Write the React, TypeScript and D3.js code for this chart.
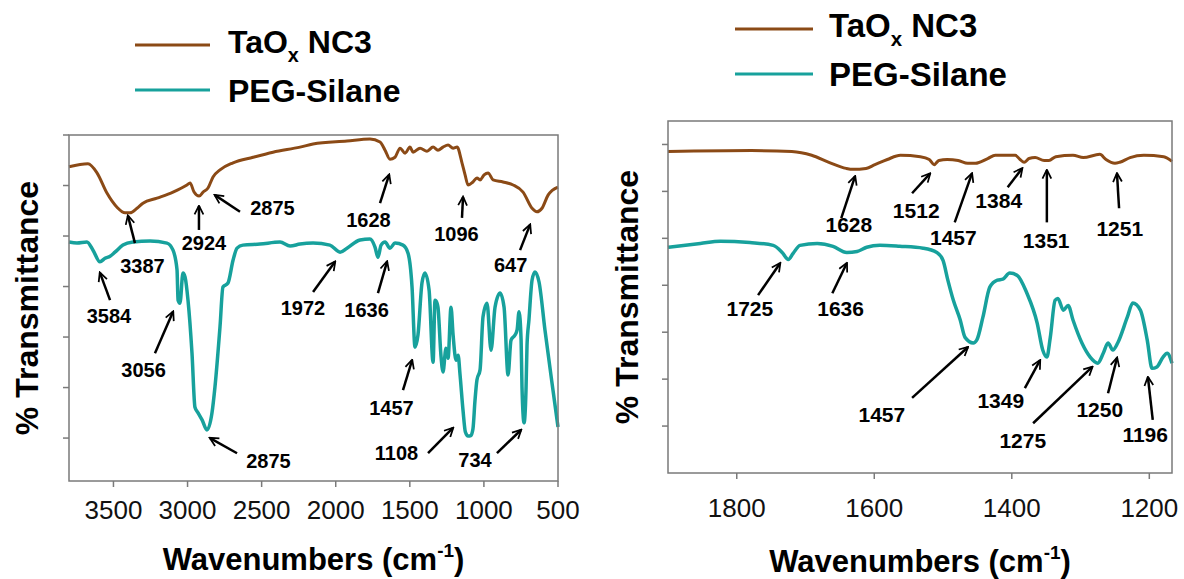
import React from 'react';
import * as d3 from 'd3';

// ---------- data ----------
const leftTicksX = [3500, 3000, 2500, 2000, 1500, 1000, 500];
const rightTicksX = [1800, 1600, 1400, 1200];
const ticksY = [10, 20, 30, 40, 50, 60, 70];

const seriesNames = ['TaOx NC3', 'PEG-Silane'];

// full range spectrum, TaOx NC3 [wavenumber, %T]
const taoxFull: [number, number][] = [
  [3800, 63.7], [3672, 64.3], [3611, 62.5], [3544, 58.5], [3476, 55.7], [3422, 54.6], [3388, 54.6],
  [3341, 55.5], [3301, 56.5], [3206, 57.5], [3098, 58.7], [3004, 60.1], [2983, 60.5], [2956, 58.7],
  [2922, 57.9], [2895, 58.7], [2862, 59.5], [2828, 61.7], [2781, 63.1], [2693, 64.5], [2558, 65.6],
  [2423, 66.6], [2241, 67.6], [2153, 68.2], [1924, 68.8], [1769, 69.2], [1701, 68.6], [1667, 67.0],
  [1634, 65.2], [1600, 65.6], [1566, 67.4], [1532, 66.4], [1499, 67.6], [1478, 66.6], [1431, 67.4],
  [1384, 66.8], [1343, 67.6], [1310, 67.0], [1276, 67.6], [1242, 68.0], [1208, 67.4], [1181, 67.6],
  [1148, 64.5], [1127, 62.1], [1107, 60.1], [1074, 60.7], [1047, 61.5], [1026, 61.1], [999, 62.1],
  [972, 62.5], [938, 61.1], [871, 60.7], [803, 60.1], [736, 58.7], [675, 55.5], [642, 54.8],
  [608, 55.5], [567, 58.1], [500, 59.7],
];

// full range spectrum, PEG-Silane
const pegFull: [number, number][] = [
  [3800, 48.8], [3746, 48.6], [3679, 48.8], [3638, 47.2], [3591, 44.9], [3557, 45.6], [3523, 46.0],
  [3490, 46.8], [3436, 48.2], [3368, 48.8], [3253, 49.0], [3139, 48.6], [3098, 47.2], [3071, 43.3],
  [3064, 37.3], [3051, 36.7], [3031, 42.7], [3017, 41.9], [2997, 37.3], [2970, 26.8], [2950, 16.1],
  [2929, 15.0], [2902, 13.6], [2869, 11.6], [2835, 15.0], [2815, 20.1], [2781, 32.0], [2761, 39.9],
  [2727, 40.7], [2693, 45.2], [2666, 47.6], [2626, 48.2], [2511, 48.4], [2376, 48.8], [2308, 48.0],
  [2241, 48.4], [2153, 48.6], [2039, 48.2], [1971, 46.8], [1924, 47.6], [1836, 49.2], [1769, 49.4],
  [1735, 47.8], [1715, 45.8], [1694, 48.2], [1667, 48.8], [1634, 47.6], [1600, 48.6], [1546, 48.2],
  [1512, 46.6], [1485, 39.9], [1465, 28.0], [1445, 30.4], [1418, 40.7], [1398, 42.7], [1370, 39.3],
  [1343, 25.0], [1330, 37.3], [1316, 36.7], [1310, 35.9], [1290, 26.4], [1276, 23.1], [1256, 27.8],
  [1242, 25.8], [1222, 35.9], [1208, 30.4], [1188, 25.4], [1174, 26.4], [1161, 22.5], [1141, 15.5],
  [1125, 11.2], [1107, 10.4], [1088, 10.5], [1074, 11.8], [1060, 17.5], [1047, 21.5], [1026, 23.5], [1006, 34.0],
  [979, 36.7], [952, 27.4], [925, 35.9], [891, 38.7], [864, 35.9], [837, 22.5], [817, 29.4],
  [790, 30.4], [776, 31.4], [763, 35.0], [749, 29.4], [743, 20.1], [729, 13.0], [716, 19.5],
  [709, 28.4], [696, 33.4], [675, 41.3], [655, 42.9], [628, 40.9], [588, 31.4], [534, 19.5], [500, 12.2],
];

// expanded region, TaOx NC3
const taoxZoom: [number, number][] = [
  [1900, 68.5], [1779, 68.7], [1720, 68.5], [1691, 67.7], [1666, 66.2], [1641, 64.9], [1631, 64.7],
  [1612, 64.9], [1599, 65.7], [1581, 66.8], [1562, 67.7], [1533, 67.4], [1520, 66.8], [1513, 65.7],
  [1506, 66.6], [1494, 66.8], [1478, 66.6], [1464, 66.0], [1453, 66.0], [1435, 67.0], [1424, 67.7],
  [1395, 67.7], [1388, 66.8], [1382, 66.2], [1375, 67.0], [1366, 67.2], [1353, 66.6], [1346, 66.6],
  [1336, 67.4], [1311, 67.7], [1296, 67.2], [1272, 67.9], [1263, 66.8], [1250, 66.0], [1243, 66.2],
  [1228, 67.2], [1208, 67.7], [1179, 67.4], [1167, 66.4],
];

// expanded region, PEG-Silane
const pegZoom: [number, number][] = [
  [1900, 48.1], [1853, 48.9], [1824, 49.4], [1781, 49.1], [1747, 48.5], [1734, 47.0], [1725, 45.5],
  [1718, 46.8], [1708, 48.5], [1683, 48.9], [1660, 48.3], [1640, 47.0], [1625, 47.2], [1611, 48.1],
  [1592, 48.5], [1563, 48.3], [1529, 47.9], [1509, 47.0], [1500, 45.3], [1493, 41.1], [1485, 36.8],
  [1475, 32.6], [1468, 28.9], [1456, 27.7], [1451, 28.3], [1442, 33.2], [1432, 39.6], [1421, 41.1],
  [1413, 41.3], [1403, 42.6], [1392, 42.1], [1378, 38.3], [1363, 31.9], [1355, 26.2], [1349, 24.7],
  [1344, 28.9], [1337, 36.8], [1333, 37.2], [1325, 34.7], [1318, 35.7], [1311, 32.6], [1298, 27.7],
  [1286, 24.7], [1275, 23.4], [1267, 25.5], [1260, 27.7], [1253, 26.2], [1246, 27.7], [1232, 33.2],
  [1224, 36.2], [1213, 34.7], [1203, 28.3], [1196, 22.3], [1189, 22.6], [1180, 24.7], [1174, 25.5],
  [1167, 23.4],
];

// peak annotations: [label, text wavenumber, text %T, arrow start wn, arrow start %T, tip wn, tip %T]
type Ann = [string, number, number, number, number, number, number];
const leftPeaks: Ann[] = [
  ['3387', 3304, 42.7, 3355, 48.6, 3402, 54.0],
  ['2924', 2889, 47.2, 2923, 51.2, 2923, 55.9],
  ['2875', 2427, 54.2, 2646, 54.8, 2815, 58.1],
  ['1628', 1779, 51.8, 1701, 56.5, 1640, 62.1],
  ['1096', 1185, 49.0, 1148, 53.6, 1141, 57.7],
  ['647', 820, 42.9, 756, 47.2, 689, 52.2],
  ['3584', 3530, 32.8, 3523, 37.3, 3591, 42.7],
  ['3056', 3297, 22.1, 3220, 26.8, 3098, 35.0],
  ['2875', 2454, 4.1, 2666, 7.0, 2848, 10.0],
  ['1972', 2221, 34.4, 2153, 38.9, 2005, 44.9],
  ['1636', 1792, 34.0, 1715, 38.7, 1654, 44.9],
  ['1457', 1624, 14.6, 1546, 19.5, 1485, 25.4],
  ['1108', 1590, 5.6, 1377, 7.0, 1209, 12.0],
  ['734', 1060, 4.3, 912, 7.0, 750, 11.6],
];
const rightPeaks: Ann[] = [
  ['1628', 1637, 51.3, 1648, 54.3, 1628, 63.2],
  ['1512', 1539, 54.3, 1545, 59.6, 1519, 63.8],
  ['1457', 1485, 48.5, 1483, 53.4, 1458, 63.8],
  ['1384', 1419, 56.4, 1406, 60.9, 1385, 64.9],
  ['1351', 1350, 47.9, 1349, 53.4, 1349, 64.5],
  ['1251', 1243, 50.6, 1244, 56.4, 1247, 63.8],
  ['1725', 1781, 33.4, 1769, 37.9, 1737, 44.7],
  ['1636', 1649, 33.4, 1661, 38.3, 1640, 44.7],
  ['1457', 1589, 10.9, 1545, 16.0, 1464, 26.8],
  ['1349', 1416, 13.8, 1381, 18.1, 1359, 24.0],
  ['1275', 1384, 5.3, 1369, 10.6, 1283, 22.6],
  ['1250', 1272, 11.9, 1260, 17.0, 1247, 24.5],
  ['1196', 1206, 6.6, 1195, 11.3, 1202, 20.4],
];

// ---------- styling ----------
const FONT = '"Liberation Sans", Arial, Helvetica, sans-serif';
const BROWN = '#8b4a16';
const TEAL = '#17a19c';
const FRAME = '#7a7a7a';

type PanelProps = {
  x: d3.ScaleLinear<number, number>;
  y: d3.ScaleLinear<number, number>;
  ticksX: number[];
  brown: [number, number][];
  teal: [number, number][];
  peaks: Ann[];
  annFont: number;
  tickBaseline: number;
  titleBaseline: number;
  yTitleX: number;
  legend: { lineX0: number; lineX1: number; textX: number; y1: number; y2: number; font: number };
  id: string;
};

function Panel(p: PanelProps) {
  const { x, y } = p;
  const [x0, x1] = x.range();
  const [yb, yt] = y.range();
  const line = d3
    .line<[number, number]>()
    .x((d) => x(d[0]))
    .y((d) => y(d[1]))
    .curve(d3.curveMonotoneX);
  const sortedB = [...p.brown].sort((a, b) => b[0] - a[0]);
  const sortedT = [...p.teal].sort((a, b) => b[0] - a[0]);
  const cx = (x0 + x1) / 2;
  const cy = (yb + yt) / 2;
  const lg = p.legend;
  return (
    <g>
      {/* curves */}
      <path d={line(sortedB) || ''} fill="none" stroke={BROWN} strokeWidth={3} strokeLinejoin="round" />
      <path d={line(sortedT) || ''} fill="none" stroke={TEAL} strokeWidth={3.5} strokeLinejoin="round" />
      {/* frame */}
      <rect x={x0} y={yt} width={x1 - x0} height={yb - yt} fill="none" stroke={FRAME} strokeWidth={1.5} />
      {/* y ticks */}
      {ticksY.filter((t) => y(t) >= yt - 0.5).map((t) => (
        <line key={'yt' + t} x1={x0 - 6} x2={x0} y1={y(t)} y2={y(t)} stroke={FRAME} strokeWidth={1.5} />
      ))}
      {/* x ticks */}
      {p.ticksX.map((t) => (
        <g key={'xt' + t}>
          <line x1={x(t)} x2={x(t)} y1={yb} y2={yb + 6} stroke={FRAME} strokeWidth={1.5} />
          <text x={x(t)} y={p.tickBaseline} textAnchor="middle" fontFamily={FONT} fontSize={26} fill="#111">
            {t}
          </text>
        </g>
      ))}
      {/* axis titles */}
      <text x={cx} y={p.titleBaseline} textAnchor="middle" fontFamily={FONT} fontSize={31} fontWeight="bold">
        Wavenumbers (cm
        <tspan fontSize={19} dy={-13}>-1</tspan>
        <tspan dy={13}>)</tspan>
      </text>
      <text
        transform={`translate(${p.yTitleX},${cy}) rotate(-90)`}
        textAnchor="middle"
        fontFamily={FONT}
        fontSize={32}
        fontWeight="bold"
      >
        % Transmittance
      </text>
      {/* annotations */}
      {p.peaks.map((a, i) => (
        <g key={'a' + i}>
          <line
            x1={x(a[3])}
            y1={y(a[4])}
            x2={x(a[5])}
            y2={y(a[6])}
            stroke="#000"
            strokeWidth={2.5}
            markerEnd={`url(#ah-${p.id})`}
          />
          <text x={x(a[1])} y={y(a[2])} textAnchor="middle" fontFamily={FONT} fontSize={p.annFont} fontWeight="bold">
            {a[0]}
          </text>
        </g>
      ))}
      {/* legend */}
      <line x1={lg.lineX0} x2={lg.lineX1} y1={lg.y1 - 8} y2={lg.y1 - 8} stroke={BROWN} strokeWidth={3.2} />
      <text x={lg.textX} y={lg.y1} fontFamily={FONT} fontSize={lg.font} fontWeight="bold">
        TaO
        <tspan fontSize={lg.font * 0.62} dy={9}>x</tspan>
        <tspan dy={-9}> NC3</tspan>
      </text>
      <line x1={lg.lineX0} x2={lg.lineX1} y1={lg.y2 - 12} y2={lg.y2 - 12} stroke={TEAL} strokeWidth={3.2} />
      <text x={lg.textX} y={lg.y2} fontFamily={FONT} fontSize={lg.font} fontWeight="bold">
        {seriesNames[1]}
      </text>
    </g>
  );
}

export default function App() {
  const xL = d3.scaleLinear().domain([3800, 500]).range([69, 558]);
  const yL = d3.scaleLinear().domain([1.5, 70]).range([481, 135]);
  const xR = d3.scaleLinear().domain([1900, 1167]).range([668, 1172]);
  const yR = d3.scaleLinear().domain([0, 75]).range([473, 121]);
  return (
    <svg
      width={1184}
      height={579}
      style={{ position: 'absolute', left: 0, top: 0, background: '#fff' }}
      viewBox="0 0 1184 579"
    >
      <defs>
        {['L', 'R'].map((id) => (
          <marker
            key={id}
            id={`ah-${id}`}
            viewBox="0 0 10 10"
            refX={8.5}
            refY={5}
            markerWidth={4.4}
            markerHeight={4.4}
            orient="auto"
          >
            <path d="M1,1 L9,5 L1,9" fill="none" stroke="#000" strokeWidth={1.6} strokeLinejoin="miter" />
          </marker>
        ))}
      </defs>
      <rect x={0} y={0} width={1184} height={579} fill="#fff" />
      <Panel
        id="L"
        x={xL}
        y={yL}
        ticksX={leftTicksX}
        brown={taoxFull}
        teal={pegFull}
        peaks={leftPeaks}
        annFont={20}
        tickBaseline={519}
        titleBaseline={570}
        yTitleX={38}
        legend={{ lineX0: 135, lineX1: 210, textX: 228, y1: 53, y2: 102, font: 32 }}
      />
      <Panel
        id="R"
        x={xR}
        y={yR}
        ticksX={rightTicksX}
        brown={taoxZoom}
        teal={pegZoom}
        peaks={rightPeaks}
        annFont={21}
        tickBaseline={517}
        titleBaseline={572}
        yTitleX={638}
        legend={{ lineX0: 735, lineX1: 813, textX: 829, y1: 37, y2: 86, font: 33 }}
      />
    </svg>
  );
}
